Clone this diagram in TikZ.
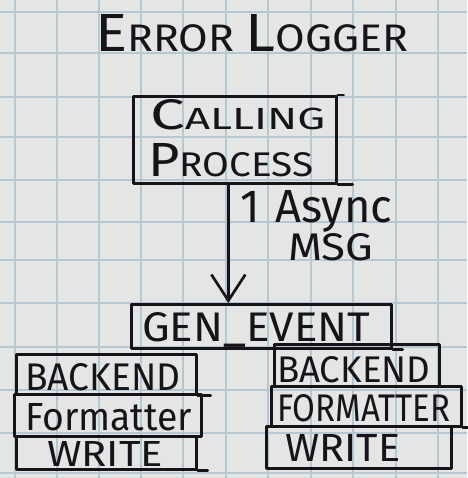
\documentclass[tikz,border=0pt]{standalone}
\usepackage{fontspec}
\setmainfont{Fira Sans}
\usetikzlibrary{arrows.meta}
\definecolor{paper}{RGB}{228,230,229}
\definecolor{gridline}{RGB}{182,199,209}
\definecolor{ink}{RGB}{22,20,24}
% scale a piece of lettering to an exact width and cap height (in pt), no depth
\newcommand\fitto[3]{\raisebox{0pt}[#2pt][0pt]{\resizebox{#1pt}{#2pt}{#3}}}
% hand-lettered small caps: large first letter, smaller rest
\newcommand\capword[2]{{\fontsize{14}{14}\selectfont #1}{\fontsize{10}{10}\selectfont #2}}

\begin{document}
\begin{tikzpicture}[x=1pt,y=-1pt,
  inkline/.style={ink, line width=2.7pt, line cap=round, line join=round},
  box/.style={inkline, draw, rectangle, inner sep=0pt, anchor=north west},
  lettering/.style={text=ink, inner sep=0pt, anchor=base west},
  arr/.style={inkline, -{Straight Barb[length=26pt,width=34pt,line width=2.7pt]}}]

% squared paper
\useasboundingbox (0,0) rectangle (467,478);
\fill[paper] (0,0) rectangle (467,478);
\foreach \gx in {15,57,99,141,183,226,268,311,353,396,438}
  \draw[gridline, line width=2.4pt] (\gx,0) -- (\gx,478);
\foreach \gy in {12,53,97,137,180,222,260,303,347,390,433,473}
  \draw[gridline, line width=2.4pt] (0,\gy) -- (467,\gy);

% title
\node[lettering] (title) at (95,52) {\fitto{313}{37}{\capword{E}{RROR} \capword{L}{OGGER}}};

% calling process
\node[box, minimum width=203pt, minimum height=87pt] (calling) at (132,95) {};
\node[lettering] (calling-a) at (150,130) {\fitto{175}{30}{\capword{C}{ALLING}}};
\node[lettering] (calling-b) at (148,176) {\fitto{165}{33}{\capword{P}{ROCESS}}};
\draw[inkline] (calling.north east) -- ++(6,0);
\draw[inkline] (calling.south east) -- ++(15,0);

% gen_event
\node[box, minimum width=260pt, minimum height=44pt] (gen) at (130,303) {};
\node[lettering] (gen-l) at (142,341) {\fitto{228}{29}{GEN\_EVENT}};
\draw[inkline] (gen.south east) -- ++(10,0);

% message arrow
\draw[arr] ([xshift=-6.5pt]calling.south) -- ([xshift=-33pt]gen.north);
\node[lettering] (msg-a) at (240,222) {\fitto{152}{32}{1\hspace{0.35em}Async}};
\node[lettering] (msg-b) at (288,260) {\fitto{85}{27}{MSG}};

% left stack
\node[box, minimum width=180pt, minimum height=40pt] (lb) at (15,353) {};
\node[lettering] (lb-l) at (25,390) {\fitto{155}{27}{BACKEND}};
\node[box, minimum width=187pt, minimum height=42pt] (lf) at (13,393) {};
\node[lettering] (lf-l) at (25,430) {\fitto{167}{27}{Formatter}};
\node[box, minimum width=180pt, minimum height=33pt] (lw) at (15,435) {};
\node[lettering] (lw-l) at (47,466) {\fitto{116}{25}{WRITE}};
\draw[inkline] (lb.south east) -- ++(13,0);
\draw[inkline] (lw.south east) -- ++(10,0);

% right stack
\node[box, minimum width=165pt, minimum height=42pt] (rb) at (273,343) {};
\node[lettering] (rb-l) at (277,382) {\fitto{153}{26}{BACKEND}};
\node[box, minimum width=190pt, minimum height=40pt] (rf) at (270,385) {};
\node[lettering] (rf-l) at (277,421) {\fitto{173}{27}{FORMATTER}};
\node[box, minimum width=185pt, minimum height=42pt] (rw) at (265,425) {};
\node[lettering] (rw-l) at (285,461) {\fitto{115}{27}{WRITE}};
\draw[inkline] (rf.south east) -- ++(6,0);
\end{tikzpicture}
\end{document}
